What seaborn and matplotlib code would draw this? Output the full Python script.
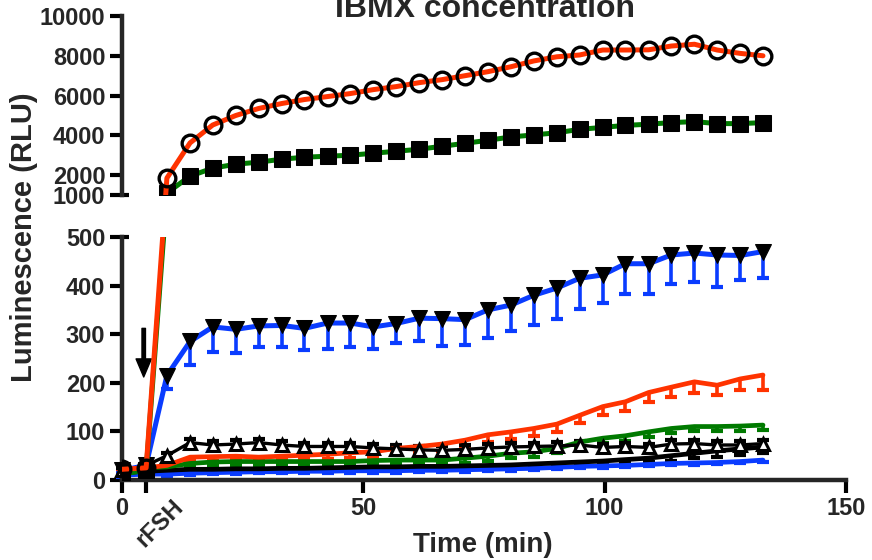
import numpy as np
import pandas as pd
import matplotlib
matplotlib.use("Agg")
import matplotlib.pyplot as plt
import seaborn as sns
from matplotlib.transforms import blended_transform_factory

# ---------------- data ----------------
time_min = [0, 5, 9.3, 14.1, 18.8, 23.6, 28.3, 33.1, 37.8, 42.6, 47.3, 52.1, 56.8,
            61.6, 66.3, 71.1, 75.8, 80.6, 85.3, 90.1, 94.8, 99.6, 104.3, 109.1,
            113.8, 118.6, 123.3, 128.1, 132.8]

# red line, open circles (high)
red_circles = [22, 25, 1850, 3620, 4520, 5000, 5350, 5600, 5800, 5950, 6100, 6300,
               6450, 6650, 6800, 7000, 7200, 7450, 7740, 7950, 8040, 8290, 8290,
               8300, 8490, 8580, 8290, 8120, 8000]
# green line, black squares (high)
green_squares = [12, 20, 1100, 1950, 2350, 2550, 2650, 2800, 2900, 2950, 3000, 3100,
                 3200, 3300, 3450, 3600, 3750, 3920, 4020, 4130, 4300, 4400, 4500,
                 4560, 4640, 4690, 4590, 4590, 4640]
# blue line, black down-triangles
blue_tri = [20, 30, 215, 285, 315, 310, 317, 318, 312, 323, 323, 315, 322, 333,
            332, 330, 350, 360, 380, 395, 415, 422, 445, 445, 463, 467, 463, 462, 470]
blue_tri_err = [5, 5, 28, 48, 51, 48, 43, 45, 44, 54, 50, 46, 41, 47, 57, 52, 58,
                53, 62, 63, 64, 58, 62, 62, 60, 59, 66, 50, 55]
# black line, open up-triangles
black_tri = [20, 30, 50, 77, 72, 74, 77, 72, 69, 69, 69, 66, 64, 62, 61, 63, 66,
             68, 69, 70, 72, 67, 69, 67, 74, 75, 72, 72, 75]
black_tri_err = [4, 4, 6, 8, 8, 8, 8, 8, 8, 8, 8, 8, 8, 8, 8, 8, 8, 8, 8, 8, 8, 8,
                 8, 8, 8, 8, 8, 8, 8]
# red line (low)
red_low = [22, 25, 30, 47, 48, 49, 47, 49, 51, 53, 56, 58, 65, 69, 74, 82, 93, 99,
           106, 115, 133, 151, 161, 180, 191, 202, 195, 208, 216]
red_low_err = [4, 4, 6, 8, 8, 8, 8, 8, 8, 10, 10, 10, 12, 12, 14, 14, 15, 15, 16,
               16, 15, 18, 20, 20, 20, 22, 20, 22, 30]
# green line (low)
green_low = [22, 25, 27, 34, 37, 38, 38, 38, 38, 38, 38, 40, 41, 41, 41, 45, 49, 55,
             58, 65, 78, 86, 91, 99, 106, 110, 110, 111, 113]
green_low_err = [4, 4, 6, 8, 8, 8, 8, 8, 8, 8, 8, 8, 8, 8, 8, 9, 9, 10, 10, 10, 10,
                 10, 10, 10, 10, 10, 10, 10, 10]
# black line (low)
black_low = [15, 18, 20, 22, 22, 23, 23, 24, 24, 25, 26, 27, 27, 28, 28, 29, 30, 31,
             33, 35, 37, 39, 42, 45, 50, 55, 60, 64, 68]
black_low_err = [4, 4, 4, 5, 5, 5, 5, 5, 6, 6, 6, 6, 6, 6, 7, 7, 7, 8, 8, 8, 8, 8,
                 8, 8, 10, 10, 12, 12, 12]
# blue line (low)
blue_low = [10, 12, 12, 14, 15, 16, 17, 17, 18, 18, 19, 19, 19, 20, 20, 21, 22, 23,
            24, 26, 28, 29, 30, 32, 34, 35, 36, 38, 41]
blue_low_err = [3, 3, 3, 3, 3, 3, 3, 3, 3, 3, 4, 4, 4, 4, 4, 4, 4, 4, 4, 4, 4, 4, 4,
                4, 4, 4, 4, 4, 4]

x_ticks = [0, 5, 50, 100, 150]
x_tick_labels = ["0", "", "50", "100", "150"]
low_ticks = [0, 100, 200, 300, 400, 500]
high_ticks = [1000, 2000, 4000, 6000, 8000, 10000]

RED = "#FF3300"
GREEN = "#007A00"
BLUE = "#0A3CFF"
BLACK = "#000000"

# ---------------- style ----------------
sns.set_style("ticks")
plt.rcParams["font.family"] = ["Liberation Sans", "DejaVu Sans"]
plt.rcParams["font.weight"] = "bold"
plt.rcParams["axes.labelweight"] = "bold"

W, H = 872, 560
fig = plt.figure(figsize=(W / 100, H / 100), dpi=100)

# piecewise (broken) y mapping, in pixels
def fwd(y):
    y = np.asarray(y, dtype=float)
    return np.where(y <= 500, 0.486 * y,
                    np.where(y <= 1000, 243 + (y - 500) * 42 / 500,
                             285 + (y - 1000) * 179 / 9000))

def inv(u):
    u = np.asarray(u, dtype=float)
    return np.where(u <= 243, u / 0.486,
                    np.where(u <= 285, 500 + (u - 243) * 500 / 42,
                             1000 + (u - 285) * 9000 / 179))

ax_bot = fig.add_axes([122 / W, 80 / H, 724 / W, 243 / H])
ax_top = fig.add_axes([122 / W, 365 / H, 724 / W, 179 / H])

for ax in (ax_bot, ax_top):
    ax.set_yscale("function", functions=(fwd, inv))
    ax.set_xlim(0, 150)

ax_bot.set_ylim(0, 500)
ax_top.set_ylim(1000, 10000)


def one_sided(ax, y, err, color, up=False, clip=False):
    y = np.asarray(y, float)
    e = np.asarray(err, float)
    end = y + e if up else y - e
    ax.vlines(time_min, y, end, colors=color, lw=2.6, zorder=2, clip_on=clip)
    ax.plot(time_min, end, ls="none", marker="_", ms=8, mew=3, color=color,
            zorder=2, clip_on=clip)


# low series (bottom panel)
low_series = [
    (blue_low, blue_low_err, BLUE, False),
    (black_low, black_low_err, BLACK, False),
    (green_low, green_low_err, GREEN, False),
    (red_low, red_low_err, RED, False),
]
for vals, err, col, up in low_series:
    one_sided(ax_bot, vals, err, col, up)
    sns.lineplot(x=time_min, y=vals, ax=ax_bot, color=col, lw=3.4,
                 errorbar=None, zorder=3, clip_on=False)

# black open up-triangles
one_sided(ax_bot, black_tri, black_tri_err, BLACK, up=True)
sns.lineplot(x=time_min, y=black_tri, ax=ax_bot, color=BLACK, lw=2.4,
             marker="^", ms=9, markerfacecolor="white", markeredgecolor=BLACK,
             markeredgewidth=2.2, errorbar=None, zorder=4, clip_on=False)

# blue line with black down-triangles
one_sided(ax_bot, blue_tri, blue_tri_err, BLUE)
sns.lineplot(x=time_min, y=blue_tri, ax=ax_bot, color=BLUE, lw=3.6,
             marker="v", ms=12, markerfacecolor=BLACK, markeredgecolor=BLACK,
             errorbar=None, zorder=5, clip_on=False)

# high series drawn in both panels (clipped)
for ax in (ax_bot, ax_top):
    sns.lineplot(x=time_min, y=green_squares, ax=ax, color=GREEN, lw=3.6,
                 marker="s", ms=11, markerfacecolor=BLACK, markeredgecolor=BLACK,
                 errorbar=None, zorder=6)
    sns.lineplot(x=time_min, y=red_circles, ax=ax, color=RED, lw=3.6,
                 marker="o", ms=12, markerfacecolor="none", markeredgecolor=BLACK,
                 markeredgewidth=2.4, errorbar=None, zorder=7)

# ---------------- axes styling ----------------
for ax in (ax_bot, ax_top):
    ax.set_xlabel("")
    ax.set_ylabel("")
    for s in ("top", "right"):
        ax.spines[s].set_visible(False)
    ax.spines["left"].set_linewidth(3.2)
    ax.spines["bottom"].set_linewidth(3.2)
    ax.tick_params(axis="both", width=3, length=9, labelsize=17, pad=3,
                   color=BLACK)

ax_top.spines["bottom"].set_visible(False)
ax_top.tick_params(axis="x", bottom=False, labelbottom=False)

ax_bot.set_xticks(x_ticks)
ax_bot.set_xticklabels(x_tick_labels)
ax_bot.set_yticks(low_ticks)
ax_bot.set_yticklabels([str(v) for v in low_ticks])
ax_bot.yaxis.set_minor_locator(matplotlib.ticker.NullLocator())
ax_top.set_yticks(high_ticks)
ax_top.set_yticklabels([str(v) for v in high_ticks])
ax_top.yaxis.set_minor_locator(matplotlib.ticker.NullLocator())
for lab in ax_bot.get_xticklabels() + ax_bot.get_yticklabels() + ax_top.get_yticklabels():
    lab.set_fontweight("bold")

# break marks (tick extending right of the spine)
for ax, yv in ((ax_top, 1000), (ax_bot, 500)):
    tr = blended_transform_factory(ax.transAxes, ax.transData)
    ax.plot([0, 0.01], [yv, yv], color=BLACK, lw=3, transform=tr, clip_on=False,
            solid_capstyle="butt")

# rFSH label and arrow
ax_bot.annotate("rFSH", xy=(5, 0), xycoords=("data", "axes fraction"),
                xytext=(14, -43), textcoords="offset pixels", rotation=45,
                ha="center", va="center", fontsize=17, fontweight="bold")
ax_bot.annotate("", xy=(4.5, 212), xytext=(4.5, 312),
                arrowprops=dict(facecolor=BLACK, edgecolor=BLACK, width=2.5,
                                headwidth=11, headlength=13, shrink=0))

# texts
fig.text(485 / W, 1 - 17 / H, "IBMX concentration", ha="center", va="baseline",
         fontsize=23, fontweight="bold")
fig.text(483 / W, 1 - 545 / H, "Time (min)", ha="center", va="center",
         fontsize=20, fontweight="bold")
fig.text(24 / W, 1 - 237 / H, "Luminescence (RLU)", ha="center", va="center",
         rotation=90, fontsize=21, fontweight="bold")

fig.savefig("out.png", dpi=100)
